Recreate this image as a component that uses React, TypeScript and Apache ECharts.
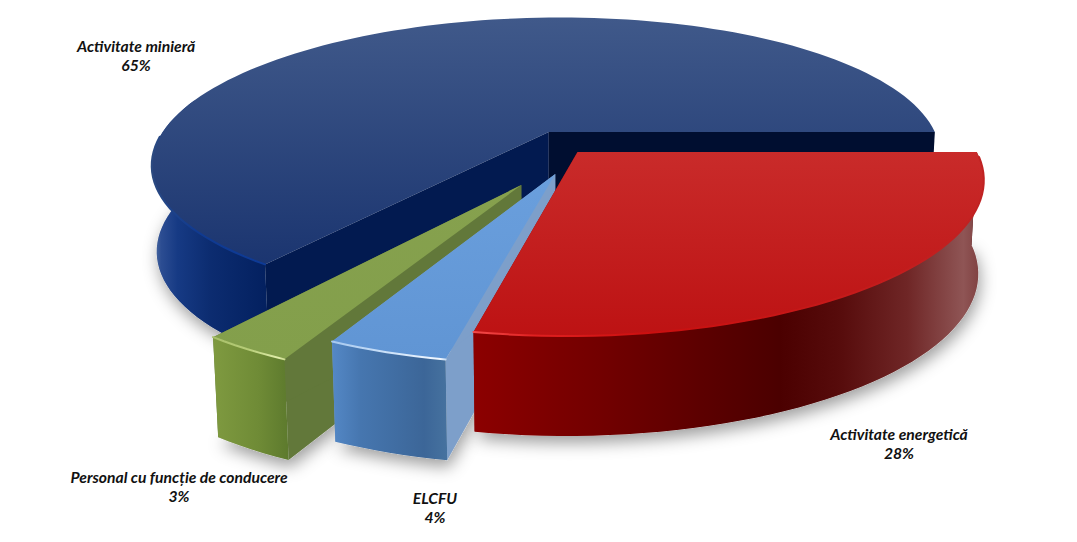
import React, { useEffect, useRef } from "react";
import * as echarts from "echarts";

const categories = ["Activitate minieră", "Personal cu funcție de conducere", "ELCFU", "Activitate energetică"];
const shares = [65, 3, 4, 28];

// perspective model of the disc
const CX = 548, CY = 132, A = 388, B = 138, K = 0.2, SHEAR = 14, M = 0.012;
const depth = [85, 92, 92, 92];
const radius = [0.995, 0.975, 0.97, 1];
const explode: number[][] = [[0.002, 0], [-0.051, -0.357], [0.028, -0.287], [0.079, -0.141]];
const labelAnchors: number[][] = [[136, 55], [179, 486], [435, 507], [899, 443]];

type Stop = [number, string];
const skins = [
  {
    top: ["#40598a", "#1b3570"], wall: [[0, "#5a78a8"], [0.08, "#2c4d92"], [0.22, "#163a84"], [0.5, "#0c2c70"], [1, "#03205f"]] as Stop[],
    endFace: "#021a50", startFace: "#000e30",
    rim: [[0, "#2c4a80"], [0.15, "#1f4388"], [0.4, "#103a90"], [1, "#0d3a96"]] as Stop[],
  },
  {
    top: ["#86a14e", "#839f4b"], wall: [[0, "#7f9a40"], [0.6, "#6f8b36"], [1, "#5d7a2d"]] as Stop[],
    endFace: "#62783a", startFace: "#62783a",
    rim: [[0, "#a8c06a"], [0.5, "#b7cd78"], [0.92, "#e2efac"], [1, "#c8d98e"]] as Stop[],
  },
  {
    top: ["#6a9fdd", "#6095d4"], wall: [[0, "#5488c6"], [0.25, "#4676af"], [0.8, "#3c6698"], [1, "#46729f"]] as Stop[],
    endFace: "#7d9fca", startFace: "#7d9fca",
    rim: [[0, "#a5c8ef"], [0.6, "#d5e7fb"], [0.95, "#f2f8ff"], [1, "#c8dcf2"]] as Stop[],
  },
  {
    top: ["#c92b2a", "#bd1213"], wall: [[0, "#8c0000"], [0.25, "#720000"], [0.6, "#4b0000"], [0.72, "#570c0c"], [0.85, "#6f2626"], [0.96, "#8f5555"], [1, "#7c3c3c"]] as Stop[],
    endFace: "#3a0000", startFace: "#8c0000",
    rim: [[0, "#f34a4a"], [0.12, "#e02020"], [0.35, "#cb0f0f"], [1, "#c02222"]] as Stop[],
  },
];

const RAD = Math.PI / 180;
const project = (X: number, Y: number, drop: number): number[] => {
  const w = 1 + K * Y + (drop ? M : 0);
  const dw = 1 + 0.35 * K * Y;
  return [CX + (A * X + SHEAR * Y) / w, CY + (-B * Y) / (1 + K * Y) + drop / dw];
};

const total = shares.reduce((s, v) => s + v, 0);
const sliceGeometry = (i: number) => {
  const before = shares.slice(0, i).reduce((s, v) => s + v, 0);
  const a0 = (before / total) * 360;
  const a1 = ((before + shares[i]) / total) * 360;
  const [dx, dy] = explode[i];
  const r = radius[i];
  const d = depth[i];
  const arc = (drop: number, frontOnly: boolean, sinLimit: number) => {
    const pts: number[][] = [];
    const n = Math.max(4, Math.ceil((a1 - a0) / 2));
    for (let j = 0; j <= n; j++) {
      const deg = a0 + ((a1 - a0) * j) / n;
      const t = deg * RAD;
      if (frontOnly && (deg < 90 || Math.sin(t) > sinLimit)) continue;
      pts.push(project(r * Math.cos(t) + dx, r * Math.sin(t) + dy, drop));
    }
    return pts;
  };
  return {
    arcTop: arc(0, false, 1),
    arcLow: arc(d, false, 1),
    wallTop: arc(0, true, 0.25),
    wallLow: arc(d, true, 0.25),
    rimLine: arc(0, true, -0.02),
    apexTop: project(dx, dy, 0),
    apexLow: project(dx, dy, d),
  };
};

const hGrad = (pts: number[][], stops: Stop[]) => {
  const xs = pts.map((p) => p[0]);
  const x0 = Math.min(...xs), x1 = Math.max(...xs);
  return new echarts.graphic.LinearGradient(x0, 0, x1, 0, stops.map(([offset, color]) => ({ offset, color })), true);
};
const vGrad = (pts: number[][], c: string[]) => {
  const ys = pts.map((p) => p[1]);
  return new echarts.graphic.LinearGradient(0, Math.min(...ys), 0, Math.max(...ys), [{ offset: 0, color: c[0] }, { offset: 1, color: c[1] }], true);
};

const renderShadow = (_p: any, api: any) => {
  const i = api.value(1);
  const g = sliceGeometry(i);
  return {
    type: "polygon",
    shape: { points: [g.apexLow, ...g.arcLow] },
    style: { fill: "#d8d8d8", shadowBlur: 16, shadowOffsetY: 7, shadowOffsetX: 2, shadowColor: "rgba(0,0,0,0.38)" },
  };
};

const renderSlice = (_p: any, api: any) => {
  const i = api.value(1);
  const skin = skins[i];
  const g = sliceGeometry(i);
  const n = g.arcTop.length - 1;
  const startFace = [g.apexTop, g.arcTop[0], g.arcLow[0], g.apexLow];
  const endFace = [g.apexTop, g.arcTop[n], g.arcLow[n], g.apexLow];
  const wall = [...g.wallTop, ...[...g.wallLow].reverse()];
  const topFace = [g.apexTop, ...g.arcTop];
  return {
    type: "group",
    children: [
      { type: "polygon", shape: { points: endFace }, style: { fill: skin.endFace } },
      { type: "polygon", shape: { points: startFace }, style: { fill: skin.startFace } },
      { type: "polygon", shape: { points: wall }, style: { fill: hGrad(wall, skin.wall) } },
      { type: "polygon", shape: { points: topFace }, style: { fill: vGrad(topFace, skin.top) } },
      {
        type: "polyline",
        shape: { points: g.rimLine },
        style: { fill: "none", stroke: hGrad(g.rimLine, skin.rim), lineWidth: 2, lineCap: "round" },
      },
    ],
  };
};

const labelGraphics = categories.map((name, i) => ({
  type: "text",
  x: labelAnchors[i][0],
  y: labelAnchors[i][1],
  style: {
    text: `${name}\n${shares[i]}%`,
    fill: "#111111",
    font: "italic bold 15.7px Lato, 'Open Sans', sans-serif",
    lineHeight: 19,
    textAlign: "center",
    textVerticalAlign: "middle",
  },
}));

export default function App() {
  const ref = useRef<HTMLDivElement>(null);
  useEffect(() => {
    const chart = echarts.init(ref.current!, undefined, { renderer: "svg" });
    const data = shares.map((v, i) => [v, i]);
    chart.setOption({
      animation: false,
      backgroundColor: "#ffffff",
      series: [
        { type: "custom", coordinateSystem: "none", renderItem: renderShadow, data, z: 1, silent: true },
        { type: "custom", coordinateSystem: "none", renderItem: renderSlice, data, z: 2, silent: true },
      ],
      graphic: labelGraphics,
    });
    return () => chart.dispose();
  }, []);
  return <div ref={ref} style={{ position: "fixed", left: 0, top: 0, width: 1077, height: 542 }} />;
}
